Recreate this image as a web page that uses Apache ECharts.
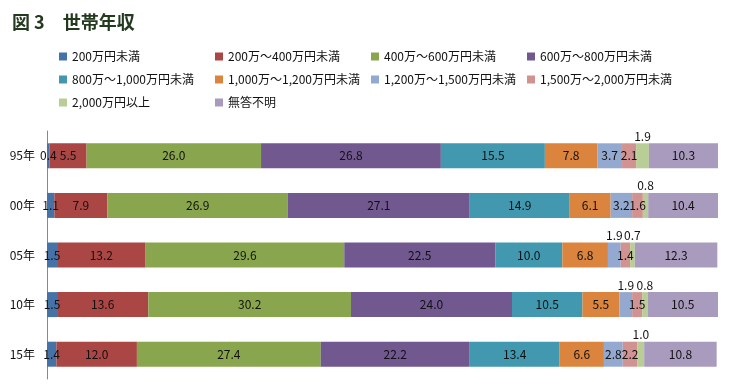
<!DOCTYPE html>
<html>
<head>
<meta charset="utf-8">
<script src="https://cdn.jsdelivr.net/npm/echarts@6/dist/echarts.min.js"></script>
<style>
html,body{margin:0;padding:0;background:#fff;}
#chart{width:731px;height:384px;}
</style>
</head>
<body>
<div id="chart"></div>
<script>
var categories = ['95年', '00年', '05年', '10年', '15年'];
var seriesNames = ['200万円未満', '200万～400万円未満', '400万～600万円未満', '600万～800万円未満',
  '800万～1,000万円未満', '1,000万～1,200万円未満', '1,200万～1,500万円未満', '1,500万～2,000万円未満',
  '2,000万円以上', '無答不明'];
var s200 = [0.4, 1.1, 1.5, 1.5, 1.4];
var s200_400 = [5.5, 7.9, 13.2, 13.6, 12.0];
var s400_600 = [26.0, 26.9, 29.6, 30.2, 27.4];
var s600_800 = [26.8, 27.1, 22.5, 24.0, 22.2];
var s800_1000 = [15.5, 14.9, 10.0, 10.5, 13.4];
var s1000_1200 = [7.8, 6.1, 6.8, 5.5, 6.6];
var s1200_1500 = [3.7, 3.2, 1.9, 1.9, 2.8];
var s1500_2000 = [2.1, 1.6, 1.4, 1.5, 2.2];
var s2000 = [1.9, 0.8, 0.7, 0.8, 1.0];
var sNA = [10.3, 10.4, 12.3, 10.5, 10.8];
var allValues = [s200, s200_400, s400_600, s600_800, s800_1000, s1000_1200, s1200_1500, s1500_2000, s2000, sNA];

var colors = ['#4572A7', '#AA4643', '#89A54E', '#71588F', '#4198AF', '#DB843D', '#93A9CF', '#D19392', '#B9CD96', '#A99BBD'];
// labels drawn above the bar (series index -> category indices)
var labelAbove = {6: [2, 3], 8: [0, 1, 2, 3, 4]};

var FONT = '"Noto Sans CJK JP", "Noto Sans", sans-serif';

var series = allValues.map(function (vals, si) {
  return {
    name: seriesNames[si],
    type: 'bar',
    stack: 'total',
    barWidth: 25,
    itemStyle: {color: colors[si]},
    label: {
      show: true, position: 'inside', color: '#111', fontSize: 12, fontFamily: FONT,
      formatter: function (p) { return p.value.toFixed(1); }
    },
    labelLayout: {hideOverlap: false},
    data: vals.map(function (v, ci) {
      var above = labelAbove[si] && labelAbove[si].indexOf(ci) >= 0;
      return above ? {value: v, label: {position: 'top', distance: 1}} : {value: v};
    })
  };
});

var chart = echarts.init(document.getElementById('chart'), null, {renderer: 'canvas'});
chart.setOption({
  animation: false,
  color: colors,
  title: {
    text: '図 3　世帯年収',
    left: 7, top: 8,
    textStyle: {fontFamily: FONT, fontSize: 18, fontWeight: 'bold', color: '#233a1f'}
  },
  legend: {
    left: 59, top: 45, width: 630, padding: 0,
    itemWidth: 8, itemHeight: 8, itemGap: 0,
    icon: 'rect',
    data: seriesNames,
    formatter: function (n) { return '{a|' + n + '}'; },
    textStyle: {
      fontFamily: FONT, fontSize: 12, color: '#111',
      rich: {a: {width: 143, height: 23, lineHeight: 23, fontFamily: FONT, fontSize: 12, color: '#111'}}
    }
  },
  grid: {left: 47, right: 13, top: 131, height: 248, containLabel: false},
  xAxis: {
    type: 'value', min: 0, max: 100,
    show: false
  },
  yAxis: {
    type: 'category', data: categories, inverse: true,
    axisLine: {show: true, lineStyle: {color: '#888', width: 1}},
    axisTick: {show: false},
    axisLabel: {fontFamily: FONT, fontSize: 12, color: '#111', margin: 12}
  },
  series: series
});
</script>
</body>
</html>
